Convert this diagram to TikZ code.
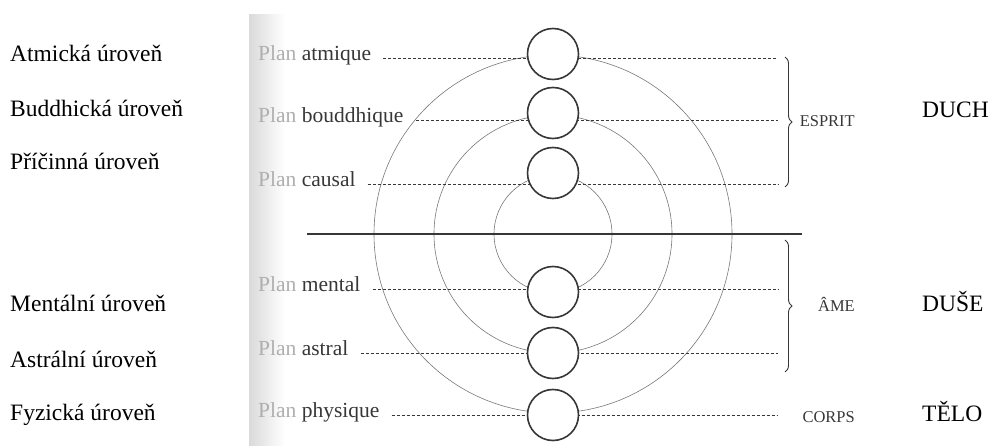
\documentclass[tikz,border=0pt]{standalone}
\usepackage{fontspec}
\setmainfont{Liberation Serif}
\usetikzlibrary{decorations.pathreplacing}
\definecolor{inkgray}{RGB}{55,55,55}
\definecolor{ringgray}{RGB}{120,120,120}
\definecolor{plangray}{RGB}{175,175,175}
\definecolor{scangray}{RGB}{218,218,218}

\begin{document}
\begin{tikzpicture}[x=1pt, y=-1pt,
    level/.style={font=\fontsize{23.5}{28}\selectfont, anchor=base west, inner sep=0pt},
    plan/.style={font=\fontsize{21.5}{26}\selectfont, text=inkgray, anchor=mid west, inner sep=0pt},
    part/.style={font=\fontsize{16.5}{20}\selectfont, text=inkgray, anchor=base east, inner sep=0pt},
    orb/.style={circle, draw=inkgray, line width=1.6pt, fill=white, minimum size=51pt, inner sep=0pt},
    ring/.style={draw=ringgray, line width=0.6pt},
    guide/.style={inkgray, line width=0.8pt, dash pattern=on 3pt off 2pt, shorten <=12pt},
    brc/.style={decorate, decoration={brace, amplitude=7pt}, inkgray, line width=0.9pt}
  ]
  \useasboundingbox (0,0) rectangle (991,446);

  % scanned page edge
  \shade[left color=scangray, right color=white] (249,15) rectangle (285,446);

  % concentric rings and the dividing rule
  \coordinate (hub) at (553,234);
  \draw[ring] (hub) circle[radius=179pt];
  \draw[ring] (hub) circle[radius=119pt];
  \draw[ring] (hub) circle[radius=59pt];
  \coordinate (rule-l) at (307,234);
  \coordinate (rule-r) at (802,234);
  \draw[inkgray, line width=1.6pt] (rule-l) -- (rule-r);

  % Czech levels
  \node[level] (cz-atm) at (10,62) {Atmická úroveň};
  \node[level] (cz-bud) at (10,117) {Buddhická úroveň};
  \node[level] (cz-cau) at (10,170) {Příčinná úroveň};
  \node[level] (cz-men) at (10,312) {Mentální úroveň};
  \node[level] (cz-ast) at (10,367) {Astrální úroveň};
  \node[level] (cz-phy) at (10,420) {Fyzická úroveň};

  % French planes
  \node[plan] (pl-atm) at (258,58) {{\color{plangray}Plan} atmique};
  \node[plan] (pl-bud) at (258,120) {{\color{plangray}Plan} bouddhique};
  \node[plan] (pl-cau) at (258,184) {{\color{plangray}Plan} causal};
  \node[plan] (pl-men) at (258,289) {{\color{plangray}Plan} mental};
  \node[plan] (pl-ast) at (258,353) {{\color{plangray}Plan} astral};
  \node[plan] (pl-phy) at (258,415) {{\color{plangray}Plan} physique};

  \coordinate (end-atm) at (778,58);
  \coordinate (end-bud) at (778,120);
  \coordinate (end-cau) at (778,184);
  \coordinate (end-men) at (778,289);
  \coordinate (end-ast) at (778,353);
  \coordinate (end-phy) at (778,415);

  \draw[guide] (pl-atm.mid east) -- (end-atm);
  \draw[guide] (pl-bud.mid east) -- (end-bud);
  \draw[guide] (pl-cau.mid east) -- (end-cau);
  \draw[guide] (pl-men.mid east) -- (end-men);
  \draw[guide] (pl-ast.mid east) -- (end-ast);
  \draw[guide] (pl-phy.mid east) -- (end-phy);

  % small circles on the axis
  \node[orb] (o-atm) at (553,54) {};
  \node[orb] (o-bud) at (553,113) {};
  \node[orb] (o-cau) at (553,173) {};
  \node[orb] (o-men) at (553,292) {};
  \node[orb] (o-ast) at (553,353) {};
  \node[orb] (o-phy) at (553,415) {};

  % braces
  \coordinate (esprit-top) at (785,57);
  \coordinate (esprit-bot) at (785,187);
  \coordinate (ame-top) at (785,240);
  \coordinate (ame-bot) at (785,372);
  \draw[brc] (esprit-top) -- (esprit-bot);
  \draw[brc] (ame-top) -- (ame-bot);

  \node[part] (esprit) at (855,127) {ESPRIT};
  \node[part] (ame) at (855,312) {ÂME};
  \node[part] (corps) at (855,422) {CORPS};

  \node[level] (duch) at (922,118) {DUCH};
  \node[level] (duse) at (922,312) {DUŠE};
  \node[level] (telo) at (922,421) {TĚLO};
\end{tikzpicture}
\end{document}
